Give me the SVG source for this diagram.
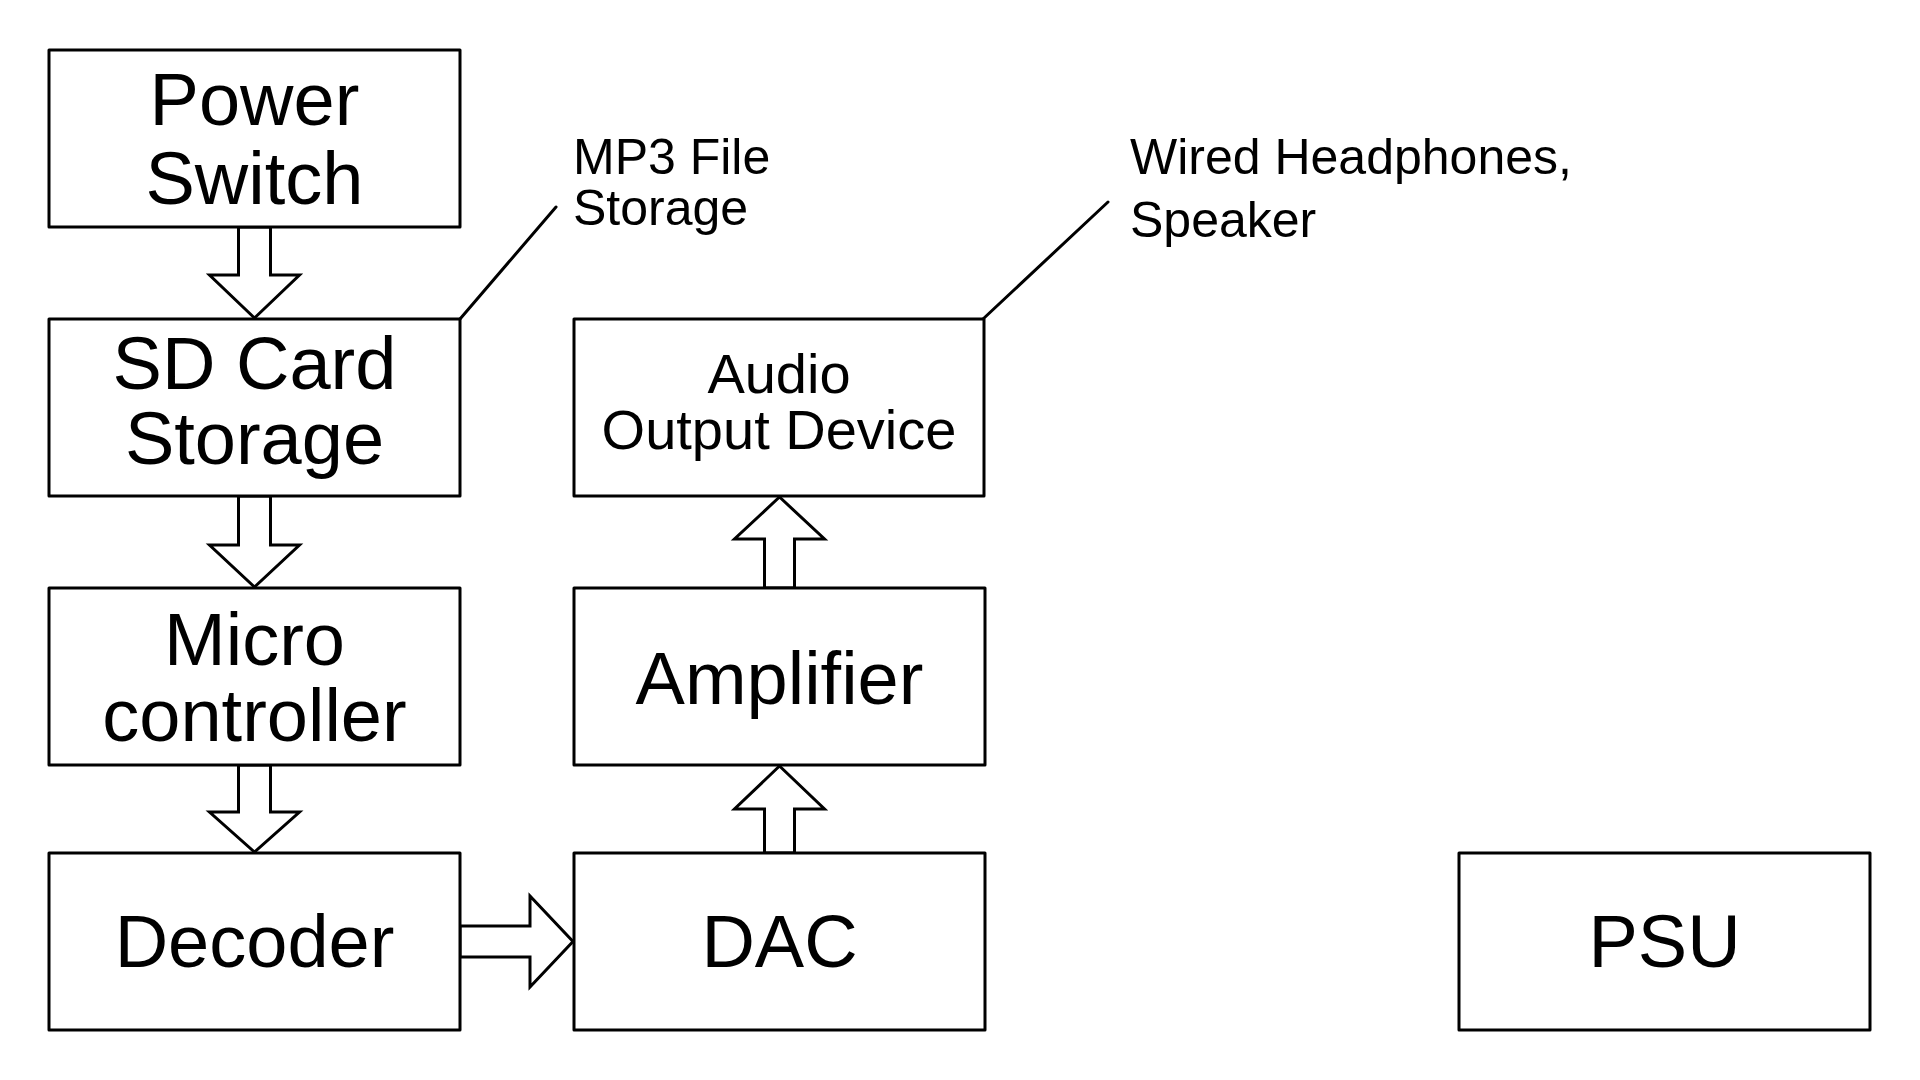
<svg xmlns="http://www.w3.org/2000/svg" width="1920" height="1080" viewBox="0 0 1920 1080">
<style>
.box{fill:#fff;stroke:#000;stroke-width:3;stroke-linejoin:round}
.arr{fill:#fff;stroke:#000;stroke-width:3;stroke-linejoin:miter}
.lead{stroke:#000;stroke-width:3;fill:none;stroke-linecap:round}
.t{font-family:"Liberation Sans",Arial,sans-serif;fill:#000;text-anchor:middle}
.big{font-size:74px}
.mid{font-size:56px}
.note{font-family:"Liberation Sans",Arial,sans-serif;font-size:50px;fill:#000}
</style>
<rect width="1920" height="1080" fill="#fff"/>
<g id="connectors">
<polygon class="arr" points="238.5,227 270.5,227 270.5,275 299.5,275 254.5,318 209.5,275 238.5,275"/>
<polygon class="arr" points="238.5,496 270.5,496 270.5,545 299.5,545 254.5,587 209.5,545 238.5,545"/>
<polygon class="arr" points="238.5,765 270.5,765 270.5,812 299.5,812 254.5,852 209.5,812 238.5,812"/>
<polygon class="arr" points="460,926 530,926 530,896 573,941.5 530,987 530,957 460,957"/>
<polygon class="arr" points="764.5,853 794.5,853 794.5,809 824.5,809 779.5,766 734.5,809 764.5,809"/>
<polygon class="arr" points="764.5,588 794.5,588 794.5,539 824.5,539 779.5,497 734.5,539 764.5,539"/>
<line class="lead" x1="460" y1="319" x2="556" y2="207"/>
<line class="lead" x1="983" y1="319" x2="1108" y2="202"/>
</g>
<g id="power-switch">
<rect class="box" x="49" y="50" width="411" height="177"/>
<text class="t big" x="254.5" y="125">Power</text>
<text class="t big" x="254.5" y="204">Switch</text>
</g>
<g id="sd-card">
<rect class="box" x="49" y="319" width="411" height="177"/>
<text class="t big" x="254.5" y="389">SD Card</text>
<text class="t big" x="254.5" y="464">Storage</text>
</g>
<g id="microcontroller">
<rect class="box" x="49" y="588" width="411" height="177"/>
<text class="t big" x="254.5" y="665">Micro</text>
<text class="t big" x="254.5" y="741">controller</text>
</g>
<g id="decoder">
<rect class="box" x="49" y="853" width="411" height="177"/>
<text class="t big" x="254.5" y="967">Decoder</text>
</g>
<g id="audio-output">
<rect class="box" x="574" y="319" width="410" height="177"/>
<text class="t mid" x="779" y="393">Audio</text>
<text class="t mid" x="779" y="449">Output Device</text>
</g>
<g id="amplifier">
<rect class="box" x="574" y="588" width="411" height="177"/>
<text class="t big" x="779.5" y="704">Amplifier</text>
</g>
<g id="dac">
<rect class="box" x="574" y="853" width="411" height="177"/>
<text class="t big" x="779.5" y="967">DAC</text>
</g>
<g id="psu">
<rect class="box" x="1459" y="853" width="411" height="177"/>
<text class="t big" x="1664.5" y="967">PSU</text>
</g>
<g id="note-mp3">
<text class="note" x="573" y="174">MP3 File</text>
<text class="note" x="573" y="225">Storage</text>
</g>
<g id="note-output">
<text class="note" x="1130" y="174">Wired Headphones,</text>
<text class="note" x="1130" y="237">Speaker</text>
</g>
</svg>
